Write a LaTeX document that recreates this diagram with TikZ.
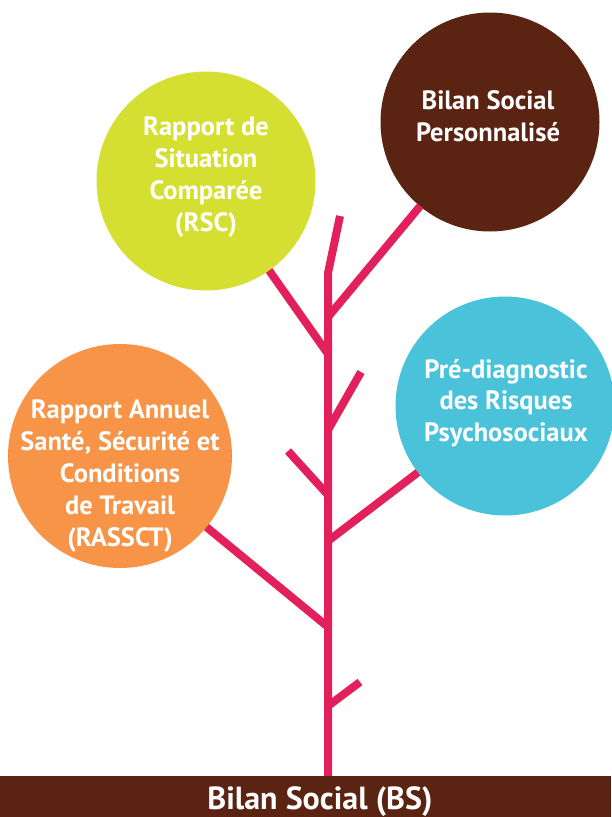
\documentclass[tikz,border=0pt]{standalone}
\usepackage{fontspec}
\setmainfont{PT Sans}
\definecolor{branchpink}{HTML}{E2215C}
\definecolor{rscgreen}{HTML}{D5DF32}
\definecolor{bsbrown}{HTML}{5B2412}
\definecolor{rpscyan}{HTML}{4AC3DA}
\definecolor{rasorange}{HTML}{F79447}
\tikzset{
    branch/.style={draw=branchpink, line width=8pt, line join=miter},
    bubble/.style={circle, draw=none, inner sep=0pt, outer sep=0pt, minimum size=219pt},
    bubtext/.style={text=white, align=center, inner sep=0pt,
        font=\bfseries\fontsize{26.5}{31.8}\selectfont},
    basebar/.style={fill=bsbrown, draw=none, inner sep=0pt, outer sep=0pt,
        minimum width=611pt, minimum height=41pt}
}
\begin{document}
\begin{tikzpicture}[x=1pt, y=-1pt]
    \useasboundingbox (0,0) rectangle (611,817);
    % the four reports
    \node[bubble, fill=rscgreen] (rsc) at (206,181) {};
    \node[bubble, fill=bsbrown] (bsp) at (490,122) {};
    \node[bubble, fill=rpscyan] (rps) at (505,406) {};
    \node[bubble, fill=rasorange, minimum size=224pt] (rassct) at (120,456) {};
    % trunk
    \coordinate (root) at (328,776);
    \coordinate (jtop) at (328,273);
    \coordinate (tip) at (340,216);
    \coordinate (jbsp) at (328,317);
    \coordinate (jrsc) at (328,354);
    \coordinate (jr1) at (328,430);
    \coordinate (tr1) at (361,372);
    \coordinate (jl1) at (328,495);
    \coordinate (tl1) at (288,451);
    \coordinate (jrps) at (328,541);
    \coordinate (jras) at (328,627);
    \coordinate (jr2) at (328,706);
    \coordinate (tr2) at (360,682);
    \draw[branch] (root) -- (jtop) -- (tip);
    \draw[branch] (jbsp) -- (bsp);
    \draw[branch] (jrsc) -- (rsc);
    \draw[branch] (jr1) -- (tr1);
    \draw[branch] (jl1) -- (tl1);
    \draw[branch] (jrps) -- (rps);
    \draw[branch] (jras) -- (rassct);
    \draw[branch] (jr2) -- (tr2);
    % labels
    \node[bubtext] (rsctxt) at (206,177) {Rapport de\\Situation\\Comparée\\(RSC)};
    \node[bubtext] (bsptxt) at (488,116) {Bilan Social\\Personnalisé};
    \node[bubtext] (rpstxt) at (506,403) {Pré-diagnostic\\des Risques\\Psychosociaux};
    \node[bubtext] (rastxt) at (120,476) {Rapport Annuel\\Santé, Sécurité et\\Conditions\\de Travail\\(RASSCT)};
    % ground
    \node[basebar, anchor=north west] (bs) at (0,776) {};
    \node[text=white, anchor=base, inner sep=0pt, font=\bfseries\fontsize{32}{36}\selectfont]
        (bstxt) at (320,809) {Bilan Social (BS)};
\end{tikzpicture}
\end{document}
